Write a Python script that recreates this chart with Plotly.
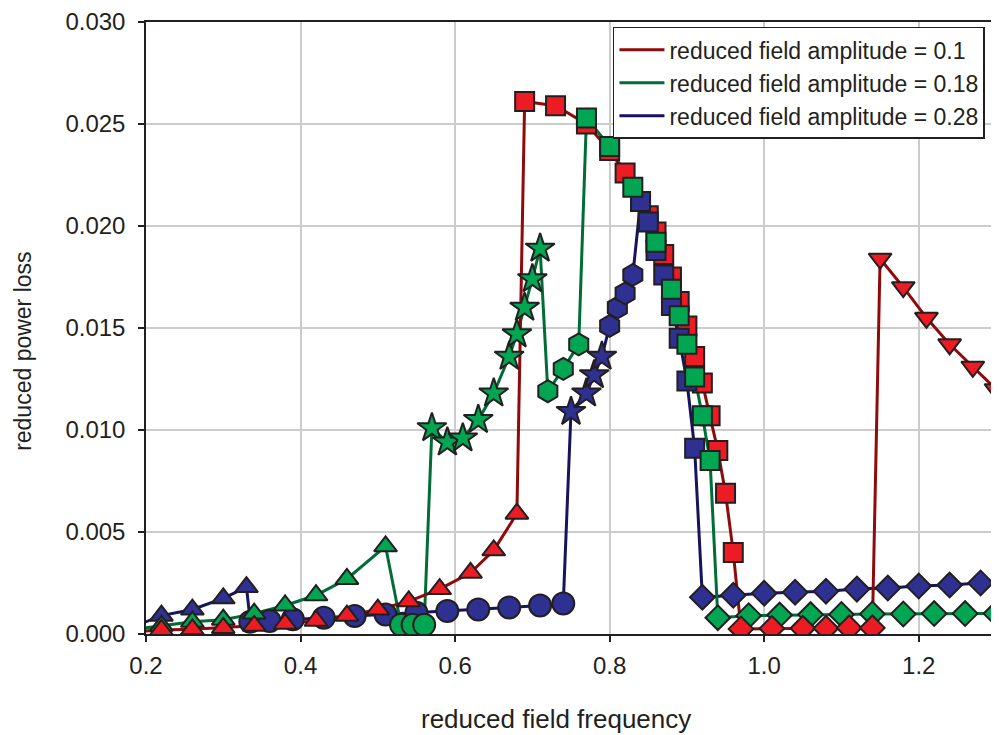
import plotly.graph_objects as go

# ---------------- data ----------------
# reduced field amplitude = 0.1 (red)
red_lead_x = [0.18]
red_lead_y = [0.0001]
red_tri_x = [0.22, 0.26, 0.30, 0.34, 0.38, 0.42, 0.46, 0.50, 0.54, 0.58, 0.62, 0.65, 0.68]
red_tri_y = [0.0002, 0.00023, 0.0003, 0.0004, 0.0005, 0.00065, 0.0009, 0.0012, 0.0016, 0.0022, 0.0030, 0.0041, 0.0059]
red_sq_x = [0.69, 0.73, 0.77, 0.80, 0.82, 0.84, 0.85, 0.86, 0.87, 0.88, 0.89, 0.90, 0.91, 0.92, 0.93, 0.94, 0.95, 0.96]
red_sq_y = [0.0261, 0.0259, 0.0250, 0.0237, 0.0226, 0.0212, 0.0205, 0.0197, 0.0186, 0.0175, 0.0163, 0.0151,
            0.0136, 0.0123, 0.0107, 0.0090, 0.0069, 0.0040]
red_dia_x = [0.97, 1.01, 1.05, 1.08, 1.11, 1.14]
red_dia_y = [0.00025, 0.00027, 0.00028, 0.00028, 0.0003, 0.0003]
red_tdn_x = [1.15, 1.18, 1.21, 1.24, 1.27, 1.30]
red_tdn_y = [0.0184, 0.0170, 0.0155, 0.0142, 0.0131, 0.0120]

# reduced field amplitude = 0.18 (green)
grn_lead_x = [0.18]
grn_lead_y = [0.0002]
grn_tri_x = [0.22, 0.26, 0.30, 0.34, 0.38, 0.42, 0.46, 0.51]
grn_tri_y = [0.0004, 0.0006, 0.0007, 0.0010, 0.0014, 0.0019, 0.0027, 0.0043]
grn_cir_x = [0.53, 0.545, 0.56]
grn_cir_y = [0.00045, 0.00045, 0.00045]
grn_star_x = [0.57, 0.59, 0.61, 0.63, 0.65, 0.67, 0.68, 0.69, 0.70, 0.71]
grn_star_y = [0.0101, 0.0094, 0.0096, 0.0105, 0.0118, 0.0136, 0.0147, 0.0160, 0.0174, 0.0189]
grn_hex_x = [0.72, 0.74, 0.76]
grn_hex_y = [0.0119, 0.0130, 0.0142]
grn_sq_x = [0.77, 0.80, 0.83, 0.86, 0.88, 0.89, 0.90, 0.91, 0.92, 0.93]
grn_sq_y = [0.0253, 0.0239, 0.0219, 0.0192, 0.0169, 0.0156, 0.0142, 0.0126, 0.0107, 0.0085]
grn_dia_x = [0.94, 0.98, 1.02, 1.06, 1.10, 1.14, 1.18, 1.22, 1.26, 1.30]
grn_dia_y = [0.0008, 0.0009, 0.00093, 0.00095, 0.00096, 0.00098, 0.00098, 0.0010, 0.0010, 0.0010]

# reduced field amplitude = 0.28 (blue)
blu_lead_x = [0.18]
blu_lead_y = [0.0003]
blu_tri_x = [0.22, 0.26, 0.30, 0.33]
blu_tri_y = [0.0009, 0.0012, 0.00175, 0.0023]
blu_cir_x = [0.335, 0.36, 0.39, 0.43, 0.47, 0.51, 0.55, 0.59, 0.63, 0.67, 0.71, 0.74]
blu_cir_y = [0.0006, 0.00064, 0.00072, 0.0008, 0.00088, 0.00096, 0.00104, 0.00113, 0.0012, 0.0013, 0.0014, 0.0015]
blu_star_x = [0.75, 0.77, 0.78, 0.79]
blu_star_y = [0.0109, 0.0118, 0.0127, 0.0136]
blu_hex_x = [0.80, 0.81, 0.82, 0.83]
blu_hex_y = [0.0151, 0.0160, 0.0167, 0.0176]
blu_sq_x = [0.84, 0.85, 0.86, 0.87, 0.88, 0.89, 0.90, 0.91]
blu_sq_y = [0.0212, 0.0202, 0.0188, 0.0176, 0.0161, 0.0145, 0.0124, 0.0091]
blu_dia_x = [0.92, 0.96, 1.00, 1.04, 1.08, 1.12, 1.16, 1.20, 1.24, 1.28, 1.32]
blu_dia_y = [0.0018, 0.0019, 0.0020, 0.00205, 0.0021, 0.0022, 0.00225, 0.00235, 0.0024, 0.0025, 0.0026]

series_names = ["reduced field amplitude = 0.1",
                "reduced field amplitude = 0.18",
                "reduced field amplitude = 0.28"]
x_title = "reduced field frequency"
y_title = "reduced power loss"

# ---------------- styles ----------------
LINE_C = {"r": "#8f0a0a", "g": "#006d36", "b": "#16135f"}
FILL_C = {"r": "#ed1c24", "g": "#00a651", "b": "#2e3192"}
EDGE = "#231f20"
FONT = "Liberation Sans, Arial, sans-serif"

fig = go.Figure()

def line_trace(key, name, xs, ys):
    fig.add_trace(go.Scatter(x=xs, y=ys, mode="lines", name=name,
                             line=dict(color=LINE_C[key], width=3),
                             showlegend=True, hoverinfo="skip"))

line_trace("b", series_names[2],
           blu_lead_x + blu_tri_x + blu_cir_x + blu_star_x + blu_hex_x + blu_sq_x + blu_dia_x,
           blu_lead_y + blu_tri_y + blu_cir_y + blu_star_y + blu_hex_y + blu_sq_y + blu_dia_y)
line_trace("g", series_names[1],
           grn_lead_x + grn_tri_x + grn_cir_x + grn_star_x + grn_hex_x + grn_sq_x + grn_dia_x,
           grn_lead_y + grn_tri_y + grn_cir_y + grn_star_y + grn_hex_y + grn_sq_y + grn_dia_y)
line_trace("r", series_names[0],
           red_lead_x + red_tri_x + red_sq_x + red_dia_x + red_tdn_x,
           red_lead_y + red_tri_y + red_sq_y + red_dia_y + red_tdn_y)

def marker_trace(key, xs, ys, symbol, size):
    fig.add_trace(go.Scatter(x=xs, y=ys, mode="markers", showlegend=False,
                             marker=dict(symbol=symbol, size=size, color=FILL_C[key],
                                         line=dict(color=EDGE, width=2))))

# draw order for markers
marker_trace("r", red_sq_x, red_sq_y, "square", 19)
marker_trace("b", blu_sq_x, blu_sq_y, "square", 19)
marker_trace("g", grn_sq_x, grn_sq_y, "square", 19)
marker_trace("b", blu_cir_x, blu_cir_y, "circle", 22)
marker_trace("g", grn_cir_x, grn_cir_y, "circle", 22)
marker_trace("b", blu_tri_x, blu_tri_y, "triangle-up", 20)
marker_trace("g", grn_tri_x, grn_tri_y, "triangle-up", 20)
marker_trace("r", red_tri_x, red_tri_y, "triangle-up", 20)
marker_trace("g", grn_star_x, grn_star_y, "star", 22)
marker_trace("b", blu_star_x, blu_star_y, "star", 22)
marker_trace("g", grn_hex_x, grn_hex_y, "hexagon", 22)
marker_trace("b", blu_hex_x, blu_hex_y, "hexagon", 22)
marker_trace("b", blu_dia_x, blu_dia_y, "diamond", 19)
marker_trace("g", grn_dia_x, grn_dia_y, "diamond", 19)
marker_trace("r", red_dia_x, red_dia_y, "diamond", 19)
marker_trace("r", red_tdn_x, red_tdn_y, "triangle-down", 20)

# legend order: 0.1, 0.18, 0.28
fig.data[0].legendrank = 3
fig.data[1].legendrank = 2
fig.data[2].legendrank = 1

fig.update_layout(
    width=999, height=735,
    margin=dict(l=138, r=11, t=14, b=109),
    paper_bgcolor="white", plot_bgcolor="white",
    font=dict(family=FONT, size=20, color="#231f20"),
    showlegend=True,
    legend=dict(x=0.987, y=0.992, xanchor="right", yanchor="top",
                bgcolor="white", bordercolor="#231f20", borderwidth=1.5,
                font=dict(size=23, color="#231f20"), tracegroupgap=0,
                itemwidth=45, traceorder="normal"),
    xaxis=dict(range=[0.2, 1.3], tick0=0.2, dtick=0.2, tickformat=".1f",
               showgrid=True, gridcolor="#cccccc", gridwidth=2,
               showline=True, linecolor="#231f20", linewidth=1.5, mirror=True,
               ticks="outside", ticklen=6, tickcolor="#231f20", tickwidth=1.5,
               tickfont=dict(size=24), ticklabelstandoff=3,
               zeroline=False, automargin=False),
    yaxis=dict(range=[0, 0.030], dtick=0.005, tickformat=".3f",
               showgrid=True, gridcolor="#cccccc", gridwidth=2,
               showline=True, linecolor="#231f20", linewidth=1.5, mirror=True,
               ticks="outside", ticklen=6, tickcolor="#231f20", tickwidth=1.5,
               tickfont=dict(size=24), ticklabelstandoff=8,
               zeroline=False, automargin=False),
    annotations=[
        dict(text=x_title, xref="paper", yref="paper", x=0.482, y=-0.139,
             xanchor="center", yanchor="middle", showarrow=False,
             font=dict(size=26, color="#231f20")),
        dict(text=y_title, xref="paper", yref="paper", x=-0.1447, y=0.461,
             xanchor="center", yanchor="middle", showarrow=False, textangle=-90,
             font=dict(size=23, color="#231f20")),
    ],
)

fig.write_html("out.html")
